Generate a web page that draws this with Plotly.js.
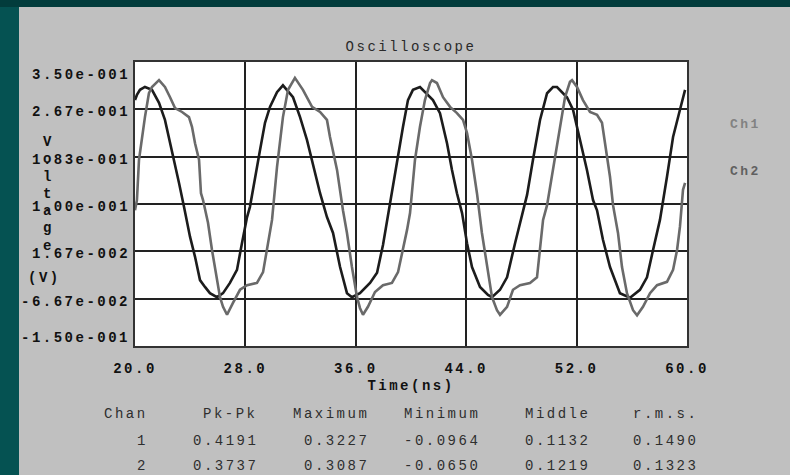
<!DOCTYPE html>
<html>
<head>
<meta charset="utf-8">
<script src="https://cdn.plot.ly/plotly-3.0.1.min.js"></script>
<style>
  html, body { margin: 0; padding: 0; width: 790px; height: 475px; overflow: hidden; background: #023c3c; }
  #edge { position: absolute; left: 0; top: 7px; width: 19px; height: 468px; background: #055252; }
  #scope { position: absolute; left: 19px; top: 7px; width: 771px; height: 468px; }
  svg text { letter-spacing: 2.5px; }
</style>
</head>
<body>
<div id="edge"></div>
<div id="scope"></div>
<script>
// Captured waveforms (time in ns, amplitude in V)
const ch1Time = [20.00,20.14,20.29,20.51,20.72,21.01,21.23,21.74,22.17,22.54,
  22.90,23.41,23.91,24.13,24.35,24.64,24.78,24.93,25.29,25.58,
  25.80,26.16,26.38,26.67,27.10,27.61,28.12,28.84,29.28,29.57,
  29.93,30.29,30.72,31.09,31.59,32.17,32.83,33.41,33.91,34.13,
  34.64,35.07,35.36,35.72,36.09,36.30,36.52,36.88,37.39,37.97,
  38.62,39.06,39.42,39.71,39.93,40.29,40.65,41.01,41.38,41.52,
  41.88,42.32,42.83,43.33,43.77,44.06,44.42,44.78,45.14,45.51,
  45.87,46.23,46.45,46.96,47.39,47.90,48.62,49.13,49.35,49.57,
  49.86,50.29,50.80,51.16,51.52,51.67,52.03,52.46,52.97,53.48,
  53.84,54.06,54.42,54.64,55.00,55.29,55.65,56.09,56.38,56.81,
  57.32,57.83,58.55,58.99,59.28,59.49,59.71,59.86];
const ch1Volt = [0.089,0.107,0.178,0.218,0.253,0.295,0.306,0.318,0.306,0.288,
  0.269,0.262,0.253,0.236,0.207,0.178,0.119,0.107,0.067,0.019,
  -0.011,-0.064,-0.081,-0.095,-0.074,-0.051,-0.043,-0.039,-0.020,0.019,
  0.072,0.165,0.253,0.301,0.322,0.301,0.271,0.262,0.248,0.218,
  0.160,0.089,0.049,-0.011,-0.064,-0.083,-0.095,-0.081,-0.055,-0.043,
  -0.039,-0.020,0.019,0.054,0.084,0.178,0.236,0.283,0.313,0.318,
  0.313,0.288,0.271,0.260,0.248,0.225,0.178,0.119,0.049,-0.011,
  -0.064,-0.087,-0.095,-0.081,-0.051,-0.043,-0.039,-0.029,0.019,0.072,
  0.098,0.160,0.236,0.288,0.315,0.318,0.306,0.283,0.262,0.257,
  0.243,0.207,0.148,0.098,0.049,-0.011,-0.057,-0.087,-0.096,-0.081,
  -0.057,-0.043,-0.037,-0.016,0.019,0.060,0.125,0.137];

const ch2Time = [20.00,20.14,20.36,20.72,21.23,21.74,22.17,22.46,22.83,23.19,
  23.55,23.99,24.35,24.71,25.07,25.43,25.94,26.38,26.88,27.39,
  27.75,28.12,28.33,28.70,29.06,29.42,29.78,30.29,30.72,31.45,
  31.96,32.46,32.83,33.41,33.91,34.35,34.86,35.36,35.72,36.30,
  37.03,37.54,37.97,38.33,38.62,38.99,39.42,39.78,40.14,40.65,
  41.59,42.10,42.61,42.97,43.33,43.70,44.06,44.42,45.00,45.58,
  45.87,46.45,46.96,47.54,47.90,48.41,48.84,49.35,49.86,50.29,
  50.58,51.30,51.74,52.25,52.75,53.19,53.48,53.91,54.42,55.14,
  55.87,56.59,57.10,57.54,58.04,58.55,58.99,59.49,59.86];
const ch2Volt = [0.283,0.292,0.301,0.306,0.301,0.278,0.248,0.218,0.178,0.137,
  0.095,0.042,0.007,-0.034,-0.046,-0.057,-0.064,-0.057,-0.039,-0.016,
  0.031,0.077,0.095,0.148,0.195,0.243,0.271,0.297,0.309,0.288,
  0.253,0.213,0.178,0.119,0.077,0.049,-0.011,-0.057,-0.064,-0.057,
  -0.039,-0.021,0.028,0.081,0.125,0.178,0.236,0.283,0.301,0.306,
  0.283,0.260,0.207,0.160,0.119,0.084,0.031,-0.011,-0.046,-0.060,
  -0.064,-0.051,-0.029,0.031,0.067,0.116,0.178,0.248,0.295,0.306,
  0.306,0.288,0.266,0.213,0.160,0.107,0.089,0.037,-0.011,-0.057,
  -0.065,-0.051,-0.029,0.019,0.072,0.148,0.218,0.266,0.301];

const channelNames = ['Ch1', 'Ch2'];

// Axis ticks
const xTickVals = [20, 28, 36, 44, 52, 60];
const xTickText = ['20.0', '28.0', '36.0', '44.0', '52.0', '60.0'];
const yTickVals = [0.35, 0.26667, 0.18333, 0.1, 0.016667, -0.066667, -0.15];
const yTickText = ['3.50e-001', '2.67e-001', '1.83e-001', '1.00e-001', '1.67e-002', '-6.67e-002', '-1.50e-001'];
const yTitleChars = ['V', 'o', 'l', 't', 'a', 'g', 'e'];
const yTitleUnit = '(V)';

// Measurement summary
const statHeaders = ['Chan', 'Pk-Pk', 'Maximum', 'Minimum', 'Middle', 'r.m.s.'];
const statCh1 = ['1', '0.4191', '0.3227', '-0.0964', '0.1132', '0.1490'];
const statCh2 = ['2', '0.3737', '0.3087', '-0.0650', '0.1219', '0.1323'];

// ---- styling / placement ----
const MONO = 'Liberation Mono, DejaVu Sans Mono, monospace';
const traceColors = ['#6a6a6a', '#1c1c1c'];
const labelColors = ['#828282', '#606060'];
const PLOT_L = 135, PLOT_W = 552, PLOT_B = 346, PLOT_H = 284;
const px2x = px => (px - PLOT_L) / PLOT_W;
const px2y = py => (PLOT_B - py) / PLOT_H;
const yLabelNudge = [-13, -3, -3, -3, -3, -3, 8];
const statColRight = [150, 260, 371, 482, 592, 700];
const statRowY = [414, 441, 466];

const traces = [
  { x: ch2Time, y: ch2Volt, name: channelNames[1], type: 'scatter', mode: 'lines',
    line: { color: traceColors[1], width: 2.6 } },
  { x: ch1Time, y: ch1Volt, name: channelNames[0], type: 'scatter', mode: 'lines',
    line: { color: traceColors[0], width: 2.6 } }
];

const annotations = [];
const bold = (size, color) => ({ family: MONO, size: size, color: color, weight: 'bold' });
const plain = (size, color) => ({ family: MONO, size: size, color: color });

yTickVals.forEach((v, i) => annotations.push({
  xref: 'paper', yref: 'y', x: 0, y: v, xanchor: 'right', yanchor: 'middle',
  xshift: -3, yshift: yLabelNudge[i], showarrow: false, text: yTickText[i], font: bold(14, '#111')
}));

yTitleChars.forEach((c, i) => annotations.push({
  xref: 'paper', yref: 'paper', x: px2x(48), y: px2y(142 + i * 17.3), xanchor: 'center', yanchor: 'middle',
  showarrow: false, text: c, font: bold(14, '#111')
}));
annotations.push({
  xref: 'paper', yref: 'paper', x: px2x(44), y: px2y(278), xanchor: 'center', yanchor: 'middle',
  showarrow: false, text: yTitleUnit, font: bold(14, '#111')
});

channelNames.forEach((n, i) => annotations.push({
  xref: 'paper', yref: 'paper', x: px2x(745), y: px2y(124 + i * 47), xanchor: 'center', yanchor: 'middle',
  showarrow: false, text: n, font: bold(13, labelColors[i])
}));

[statHeaders, statCh1, statCh2].forEach((row, r) => row.forEach((cell, c) => annotations.push({
  xref: 'paper', yref: 'paper', x: px2x(statColRight[c]), y: px2y(statRowY[r]),
  xanchor: 'right', yanchor: 'middle', showarrow: false, text: cell, font: plain(14, '#2e2e2e')
})));

const layout = {
  width: 771, height: 468,
  margin: { l: 116, r: 103, t: 55, b: 129, pad: 0 },
  paper_bgcolor: '#c0c0c0',
  plot_bgcolor: '#ffffff',
  showlegend: false,
  title: { text: 'Oscilloscope', font: plain(14, '#2a2a2a'),
    xref: 'paper', x: 0.5, xanchor: 'center', yref: 'container', y: 1 - 39 / 468, yanchor: 'middle' },
  xaxis: {
    range: [20, 60], tickvals: xTickVals, ticktext: xTickText,
    tickfont: bold(14, '#111'), ticks: '', ticklabelstandoff: 8,
    showgrid: true, gridcolor: '#222', gridwidth: 2, zeroline: false,
    showline: true, mirror: true, linecolor: '#333', linewidth: 2,
    title: { text: 'Time(ns)', font: bold(14, '#111'), standoff: 4 }
  },
  yaxis: {
    range: [-0.15, 0.35], tickvals: yTickVals, showticklabels: false, ticks: '',
    showgrid: true, gridcolor: '#222', gridwidth: 2, zeroline: false,
    showline: true, mirror: true, linecolor: '#333', linewidth: 2
  },
  annotations: annotations
};

Plotly.newPlot('scope', traces, layout, { staticPlot: true, displayModeBar: false });
</script>
</body>
</html>
